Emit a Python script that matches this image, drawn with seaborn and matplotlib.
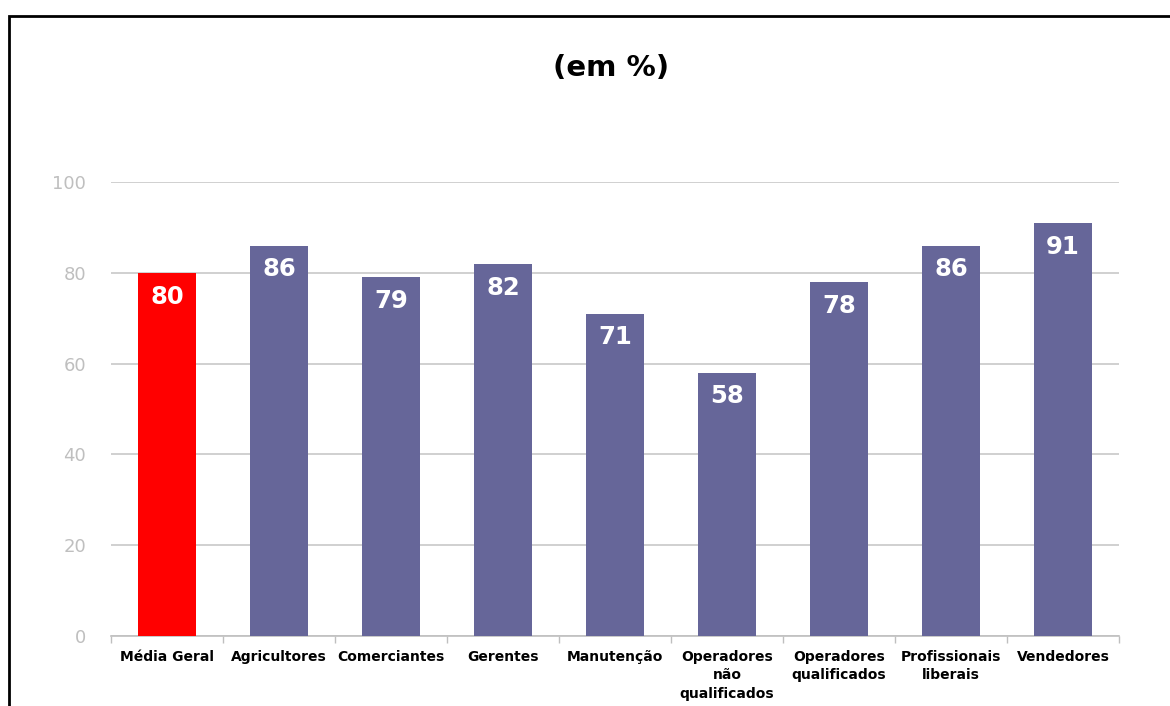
import matplotlib
matplotlib.use("Agg")
import matplotlib.pyplot as plt
import seaborn as sns
import pandas as pd
from matplotlib.patches import Rectangle

categories = [
    "Média Geral", "Agricultores", "Comerciantes", "Gerentes", "Manutenção",
    "Operadores\nnão\nqualificados", "Operadores\nqualificados",
    "Profissionais\nliberais", "Vendedores",
]
values = [80, 86, 79, 82, 71, 58, 78, 86, 91]
bar_colors = ["#FF0000"] + ["#666699"] * 8
y_ticks = [0, 20, 40, 60, 80, 100]

sns.set_theme(style="white")
plt.rcParams["font.family"] = ["DejaVu Sans"]

df = pd.DataFrame({"cat": categories, "val": values})

fig = plt.figure(figsize=(11.7, 7.06), dpi=100)
ax = fig.add_axes([0.0949, 0.0992, 0.8615, 0.643])

sns.barplot(data=df, x="cat", y="val", hue="cat", palette=bar_colors,
            legend=False, width=0.51, saturation=1, linewidth=0,
            ax=ax, zorder=3)

ax.set_ylim(0, 100)
ax.set_xlim(-0.5, len(categories) - 0.5)
ax.set_yticks(y_ticks)
ax.yaxis.grid(True, color="#C8C8C8", linewidth=1.2, zorder=0)
ax.set_axisbelow(True)
ax.tick_params(axis="y", labelsize=13, labelcolor="#BFBFBF", length=0, pad=18)
ax.set_xlabel("")
ax.set_ylabel("")
ax.set_xticks(range(len(categories)))
ax.set_xticklabels(categories, fontsize=10, fontweight="bold", color="black",
                   linespacing=1.4, va="top")
ax.tick_params(axis="x", length=0, pad=10)
# tick marks between categories
ax.set_xticks([i - 0.5 for i in range(len(categories) + 1)], minor=True)
ax.tick_params(axis="x", which="minor", bottom=True, length=5,
               color="#BFBFBF", width=1)

for s in ["top", "right", "left"]:
    ax.spines[s].set_visible(False)
ax.spines["bottom"].set_color("#BFBFBF")
ax.spines["bottom"].set_linewidth(1.2)

for i, v in enumerate(values):
    ax.text(i, v - 2.6, str(v), ha="center", va="top", color="white",
            fontsize=17.5, fontweight="bold", zorder=4)

fig.text(0.522, 0.903, "(em %)", ha="center", va="center",
         fontsize=21, fontweight="bold", color="black")

fig.patches.append(Rectangle((9 / 1170, -0.1), 1.2, 0.1 + (706 - 16) / 706,
                             transform=fig.transFigure, fill=False,
                             edgecolor="black", linewidth=2))

fig.savefig("out.png", dpi=100)
